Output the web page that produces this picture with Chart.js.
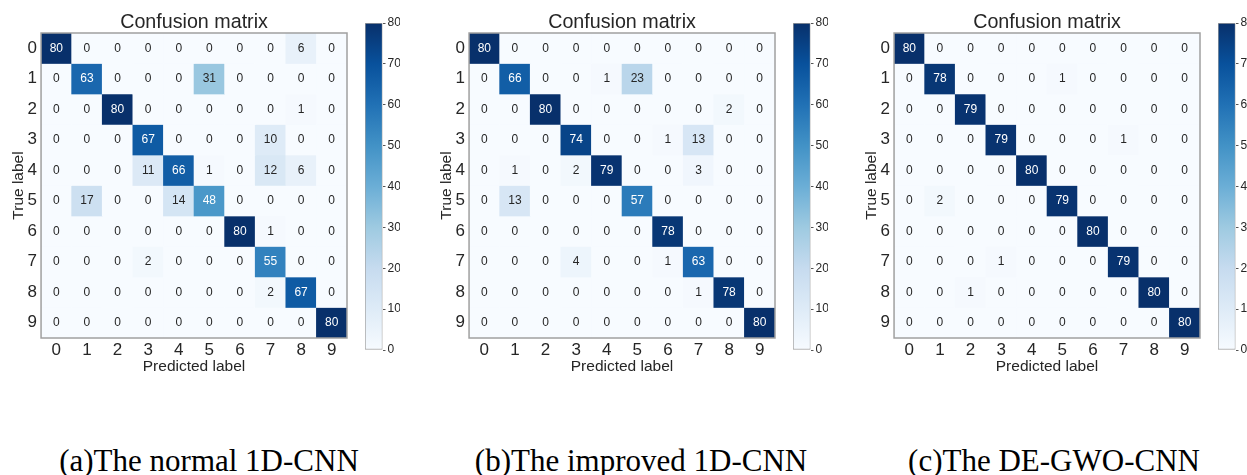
<!DOCTYPE html>
<html>
<head>
<meta charset="utf-8">
<script src="https://cdn.jsdelivr.net/npm/chart.js@4.4.0/dist/chart.umd.min.js"></script>
<style>
  html, body { margin: 0; padding: 0; background: #fff; }
  body { width: 1247px; height: 475px; position: relative; overflow: hidden; }
  .box { position: absolute; }
  .caption {
    position: absolute; top: 443px; width: 400px; text-align: center; line-height: 36px;
    font-family: "Liberation Serif", "Times New Roman", serif; font-size: 31px; color: #000;
  }
</style>
</head>
<body>
<div class="box" style="left:0px;top:0px;width:360px;height:376px"><canvas id="cm-a"></canvas></div>
<div class="box" style="left:355px;top:0px;width:45px;height:390px"><canvas id="cb-a"></canvas></div>
<div class="box" style="left:428px;top:0px;width:360px;height:376px"><canvas id="cm-b"></canvas></div>
<div class="box" style="left:783px;top:0px;width:45px;height:390px"><canvas id="cb-b"></canvas></div>
<div class="box" style="left:853px;top:0px;width:360px;height:376px"><canvas id="cm-c"></canvas></div>
<div class="box" style="left:1208px;top:0px;width:45px;height:390px"><canvas id="cb-c"></canvas></div>

<div class="caption" style="left:9px">(a)The normal 1D-CNN</div>
<div class="caption" style="left:441px">(b)The improved 1D-CNN</div>
<div class="caption" style="left:854px">(c)The DE-GWO-CNN</div>

<script>
// ---- data ----
let classLabels = ['0', '1', '2', '3', '4', '5', '6', '7', '8', '9'];
let colorbarTicks = [0, 10, 20, 30, 40, 50, 60, 70, 80];
let maxCount = 80;

// rows = true label, columns = predicted label
let normalCnn = [
    [80, 0, 0, 0, 0, 0, 0, 0, 6, 0],
    [0, 63, 0, 0, 0, 31, 0, 0, 0, 0],
    [0, 0, 80, 0, 0, 0, 0, 0, 1, 0],
    [0, 0, 0, 67, 0, 0, 0, 10, 0, 0],
    [0, 0, 0, 11, 66, 1, 0, 12, 6, 0],
    [0, 17, 0, 0, 14, 48, 0, 0, 0, 0],
    [0, 0, 0, 0, 0, 0, 80, 1, 0, 0],
    [0, 0, 0, 2, 0, 0, 0, 55, 0, 0],
    [0, 0, 0, 0, 0, 0, 0, 2, 67, 0],
    [0, 0, 0, 0, 0, 0, 0, 0, 0, 80]
];
let improvedCnn = [
    [80, 0, 0, 0, 0, 0, 0, 0, 0, 0],
    [0, 66, 0, 0, 1, 23, 0, 0, 0, 0],
    [0, 0, 80, 0, 0, 0, 0, 0, 2, 0],
    [0, 0, 0, 74, 0, 0, 1, 13, 0, 0],
    [0, 1, 0, 2, 79, 0, 0, 3, 0, 0],
    [0, 13, 0, 0, 0, 57, 0, 0, 0, 0],
    [0, 0, 0, 0, 0, 0, 78, 0, 0, 0],
    [0, 0, 0, 4, 0, 0, 1, 63, 0, 0],
    [0, 0, 0, 0, 0, 0, 0, 1, 78, 0],
    [0, 0, 0, 0, 0, 0, 0, 0, 0, 80]
];
let deGwoCnn = [
    [80, 0, 0, 0, 0, 0, 0, 0, 0, 0],
    [0, 78, 0, 0, 0, 1, 0, 0, 0, 0],
    [0, 0, 79, 0, 0, 0, 0, 0, 0, 0],
    [0, 0, 0, 79, 0, 0, 0, 1, 0, 0],
    [0, 0, 0, 0, 80, 0, 0, 0, 0, 0],
    [0, 2, 0, 0, 0, 79, 0, 0, 0, 0],
    [0, 0, 0, 0, 0, 0, 80, 0, 0, 0],
    [0, 0, 0, 1, 0, 0, 0, 79, 0, 0],
    [0, 0, 1, 0, 0, 0, 0, 0, 80, 0],
    [0, 0, 0, 0, 0, 0, 0, 0, 0, 80]
];

// matplotlib "Blues" colormap stops
let bluesStops = [
    [247, 251, 255], [222, 235, 247], [198, 219, 239], [158, 202, 225], [107, 174, 214],
    [66, 146, 198], [33, 113, 181], [8, 81, 156], [8, 48, 107]
];

function blues(t) {
    t = Math.max(0, Math.min(1, t));
    let pos = t * (bluesStops.length - 1);
    let i = Math.min(Math.floor(pos), bluesStops.length - 2);
    let f = pos - i;
    let a = bluesStops[i], b = bluesStops[i + 1];
    let c = a.map((v, k) => Math.round(v + (b[k] - v) * f));
    return 'rgb(' + c[0] + ',' + c[1] + ',' + c[2] + ')';
}

const sansFont = '"Liberation Sans", Arial, sans-serif';
const textColor = '#262626';
const spineColor = '#a0a0a0';

// draws the count inside each cell, the title and the frame
const cellTextPlugin = {
    id: 'cellText',
    afterDatasetsDraw(chart) {
        const ctx = chart.ctx;
        ctx.save();
        ctx.font = '12px ' + sansFont;
        ctx.textAlign = 'center';
        ctx.textBaseline = 'middle';
        chart.data.datasets.forEach((ds, di) => {
            chart.getDatasetMeta(di).data.forEach((bar, ci) => {
                let v = ds.counts[ci];
                ctx.fillStyle = v > maxCount / 2 ? '#ffffff' : textColor;
                ctx.fillText(String(v), bar.x, (bar.y + bar.base) / 2);
            });
        });
        ctx.restore();
    },
    afterDraw(chart) {
        const ctx = chart.ctx;
        const a = chart.chartArea;
        ctx.save();
        ctx.strokeStyle = spineColor;
        ctx.lineWidth = 1.5;
        ctx.strokeRect(a.left, a.top, a.right - a.left, a.bottom - a.top);
        ctx.fillStyle = textColor;
        ctx.font = '19.7px ' + sansFont;
        ctx.textAlign = 'center';
        ctx.textBaseline = 'bottom';
        ctx.fillText('Confusion matrix', (a.left + a.right) / 2, a.top - 1);
        ctx.restore();
    }
};

function makeMatrix(canvasId, matrix) {
    let datasets = matrix.map((row, r) => ({
        data: row.map(() => [r, r + 1]),
        counts: row,
        backgroundColor: row.map(v => blues(v / maxCount)),
        borderWidth: 0,
        barPercentage: 1,
        categoryPercentage: 1,
        grouped: false
    }));

    return new Chart(document.getElementById(canvasId), {
        type: 'bar',
        data: { labels: classLabels, datasets: datasets },
        options: {
            responsive: true,
            maintainAspectRatio: false,
            animation: false,
            layout: { padding: { top: 33, right: 13, left: 9, bottom: 0 } },
            scales: {
                x: {
                    grid: { display: false, drawTicks: false },
                    border: { display: false },
                    ticks: { color: textColor, font: { size: 17, family: sansFont }, padding: 2 },
                    title: {
                        display: true, text: 'Predicted label', color: textColor,
                        font: { size: 15.5, family: sansFont }, padding: { top: -5, bottom: 0 }
                    }
                },
                y: {
                    min: 0,
                    max: classLabels.length,
                    reverse: true,
                    afterBuildTicks: axis => {
                        axis.ticks = classLabels.map((l, i) => ({ value: i + 0.5 }));
                    },
                    grid: { display: false, drawTicks: false },
                    border: { display: false },
                    ticks: {
                        color: textColor, font: { size: 17, family: sansFont }, padding: 4,
                        callback: v => classLabels[Math.floor(v)]
                    },
                    title: {
                        display: true, text: 'True label', color: textColor,
                        font: { size: 15.5, family: sansFont }, padding: { top: 0, bottom: -4 }
                    }
                }
            },
            plugins: {
                legend: { display: false },
                tooltip: { enabled: false },
                title: { display: false }
            }
        },
        plugins: [cellTextPlugin]
    });
}

function makeColorbar(canvasId) {
    return new Chart(document.getElementById(canvasId), {
        type: 'bar',
        data: {
            labels: [''],
            datasets: [{
                data: [[colorbarTicks[0], colorbarTicks[colorbarTicks.length - 1]]],
                backgroundColor: context => {
                    const area = context.chart.chartArea;
                    if (!area) return blues(0.5);
                    const g = context.chart.ctx.createLinearGradient(0, area.bottom, 0, area.top);
                    bluesStops.forEach((c, i) => {
                        g.addColorStop(i / (bluesStops.length - 1), 'rgb(' + c.join(',') + ')');
                    });
                    return g;
                },
                borderColor: spineColor,
                borderWidth: 1,
                borderSkipped: false,
                barPercentage: 1,
                categoryPercentage: 1
            }]
        },
        options: {
            responsive: true,
            maintainAspectRatio: false,
            animation: false,
            layout: { padding: { top: 23, bottom: 40, left: 10, right: 0 } },
            scales: {
                x: { display: false },
                y: {
                    position: 'right',
                    min: 0,
                    max: maxCount,
                    afterBuildTicks: axis => {
                        axis.ticks = colorbarTicks.map(v => ({ value: v }));
                    },
                    grid: { drawOnChartArea: false, drawTicks: true, tickLength: 3, color: '#555' },
                    border: { display: false },
                    ticks: { color: textColor, font: { size: 12, family: sansFont }, padding: 2 }
                }
            },
            plugins: {
                legend: { display: false },
                tooltip: { enabled: false }
            }
        }
    });
}

makeMatrix('cm-a', normalCnn);
makeMatrix('cm-b', improvedCnn);
makeMatrix('cm-c', deGwoCnn);
makeColorbar('cb-a');
makeColorbar('cb-b');
makeColorbar('cb-c');
</script>
</body>
</html>
